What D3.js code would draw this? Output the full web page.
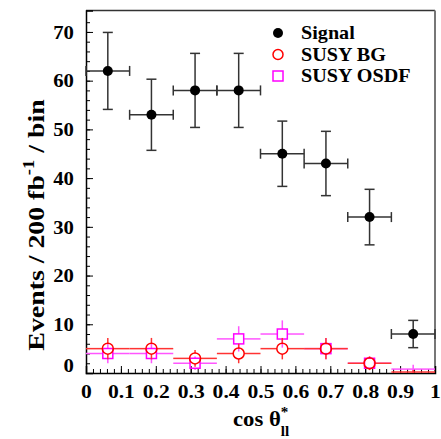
<!DOCTYPE html>
<html>
<head>
<meta charset="utf-8">
<script src="https://cdn.jsdelivr.net/npm/d3@7"></script>
<style>
  body { margin: 0; background: #fff; }
  text { font-family: "Liberation Serif", "DejaVu Serif", serif; font-weight: bold; fill: #000; }
</style>
</head>
<body>
<div class="chart__container"></div>
<script>
// bins in cos theta*_ll
const binLow = [0, 0.125, 0.25, 0.375, 0.5, 0.625, 0.75, 0.875];
const binHigh = [0.125, 0.25, 0.375, 0.5, 0.625, 0.75, 0.875, 1];

const signal = [62, 53, 58, 58, 45, 43, 32, 8];
const signalErr = [7.9, 7.3, 7.6, 7.6, 6.7, 6.6, 5.7, 2.8];

const susyBG = [5, 5, 3, 4, 5, 5, 2, 0.2];
const susyBGErr = [2.2, 2.2, 1.7, 2, 2.2, 2.2, 1.4, 0.4];

const susyOSDF = [4, 4, 2, 7, 8, 5, 2, 0.8];
const susyOSDFErr = [2, 2, 1.4, 2.6, 2.8, 2.2, 1.4, 0.9];

const xTickLabels = ["0", "0.1", "0.2", "0.3", "0.4", "0.5", "0.6", "0.7", "0.8", "0.9", "1"];
const yTickLabels = ["0", "10", "20", "30", "40", "50", "60", "70"];
const legendNames = ["Signal", "SUSY BG", "SUSY OSDF"];

const W = 441, H = 439;
const margin = { top: 10.5, right: 6, bottom: 66, left: 86 };
const width = W - margin.left - margin.right;
const height = H - margin.top - margin.bottom;

const svg = d3.select(".chart__container")
  .append("svg")
  .attr("width", W)
  .attr("height", H);

const g = svg.append("g").attr("transform", `translate(${margin.left},${margin.top})`);

const x = d3.scaleLinear().domain([0, 1]).range([0, width]);
const y = d3.scaleLinear().domain([0, 74.4]).range([height, 0]);

// frame: top and right lines
g.append("line").attr("x1", 0).attr("x2", width).attr("y1", 0).attr("y2", 0)
  .attr("stroke", "#333").attr("stroke-width", 1.5);
g.append("line").attr("x1", width).attr("x2", width).attr("y1", 0).attr("y2", height)
  .attr("stroke", "#777").attr("stroke-width", 2);

// x axis (minor + major ticks)
const xAxisMinor = d3.axisBottom(x).tickValues(d3.range(0, 1.0001, 0.02)).tickSize(-4).tickFormat("");
const xAxisMajor = d3.axisBottom(x).tickValues(xTickLabels.map(Number)).tickSize(-7).tickPadding(14)
  .tickFormat((d, i) => xTickLabels[i]);

g.append("g").attr("transform", `translate(0,${height})`).call(xAxisMinor)
  .call(s => s.select(".domain").remove())
  .selectAll("line").attr("stroke", "#000");
const xa = g.append("g").attr("transform", `translate(0,${height})`).call(xAxisMajor);
xa.select(".domain").attr("stroke", "#000").attr("stroke-width", 1.5);
xa.selectAll("line").attr("stroke", "#000");
xa.selectAll("text").attr("font-size", 18).attr("font-family", null).attr("dy", "0.6em")
  .attr("transform", "scale(1.2,1)");

// y axis
const yAxisMinor = d3.axisLeft(y).tickValues(d3.range(0, 74, 2)).tickSize(-4).tickFormat("");
const yAxisMajor = d3.axisLeft(y).tickValues(yTickLabels.map(Number)).tickSize(-7).tickPadding(10.5)
  .tickFormat((d, i) => yTickLabels[i]);

g.append("g").call(yAxisMinor)
  .call(s => s.select(".domain").remove())
  .selectAll("line").attr("stroke", "#000");
const ya = g.append("g").call(yAxisMajor);
ya.select(".domain").attr("stroke", "#000").attr("stroke-width", 1.5);
ya.selectAll("line").attr("stroke", "#000");
ya.selectAll("text").attr("font-size", 18).attr("font-family", null)
  .attr("dy", (d) => d === 0 ? "-0.1em" : "0.35em")
  .attr("transform", "scale(1.15,1)");

// hollow-marker error bars (gap around marker)
function drawHollow(values, errs, lineColor, gap) {
  const grp = g.append("g");
  values.forEach((v, i) => {
    const cx = x((binLow[i] + binHigh[i]) / 2);
    const cy = y(v);
    const hasMarker = v >= 1;
    const gp = hasMarker ? gap : 0;
    const segs = [
      [x(binLow[i]), cy, cx - gp, cy],
      [cx + gp, cy, x(binHigh[i]), cy],
      [cx, y(v + errs[i]), cx, cy - gp],
      [cx, cy + gp, cx, y(Math.max(0, v - errs[i]))]
    ];
    segs.forEach(([x1, y1, x2, y2]) => {
      if ((x2 - x1) > 0 || (y2 - y1) > 0) {
        grp.append("line").attr("x1", x1).attr("y1", y1).attr("x2", x2).attr("y2", y2)
          .attr("stroke", lineColor).attr("stroke-width", 1.5);
      }
    });
  });
  return grp;
}

// SUSY OSDF (magenta squares)
const osdf = drawHollow(susyOSDF, susyOSDFErr, "#f5f", 5);
osdf.selectAll("rect.m").data(susyOSDF.filter(d => d >= 1)).enter().append("rect")
  .attr("x", (d, i) => x((binLow[i] + binHigh[i]) / 2) - 5)
  .attr("y", (d) => y(d) - 5)
  .attr("width", 10).attr("height", 10)
  .attr("fill", "none").attr("stroke", "#f0f").attr("stroke-width", 1.5);

// SUSY BG (red circles)
const bg = drawHollow(susyBG, susyBGErr, "#f33", 5.5);
bg.selectAll("circle.m").data(susyBG.filter(d => d >= 1)).enter().append("circle")
  .attr("cx", (d, i) => x((binLow[i] + binHigh[i]) / 2))
  .attr("cy", (d) => y(d))
  .attr("r", 5.5)
  .attr("fill", "none").attr("stroke", "#f00").attr("stroke-width", 1.5);

// Signal (black filled, with end caps)
const sig = g.append("g");
signal.forEach((v, i) => {
  const cx = x((binLow[i] + binHigh[i]) / 2);
  const cy = y(v);
  const x0 = x(binLow[i]), x1 = x(binHigh[i]);
  const yt = y(v + signalErr[i]), yb = y(v - signalErr[i]);
  const lines = [
    [x0, cy, x1, cy], [cx, yt, cx, yb],
    [x0, cy - 5, x0, cy + 5], [x1, cy - 5, x1, cy + 5],
    [cx - 5, yt, cx + 5, yt], [cx - 5, yb, cx + 5, yb]
  ];
  lines.forEach(([a, b, c, d]) => {
    sig.append("line").attr("x1", a).attr("y1", b).attr("x2", c).attr("y2", d)
      .attr("stroke", "#333").attr("stroke-width", 1.5);
  });
});
sig.selectAll("circle").data(signal).enter().append("circle")
  .attr("cx", (d, i) => x((binLow[i] + binHigh[i]) / 2))
  .attr("cy", (d) => y(d))
  .attr("r", 5)
  .attr("fill", "#000");

// legend
const legend = svg.append("g").attr("transform", "translate(278,33)");
legendNames.forEach((name, i) => {
  const row = legend.append("g").attr("transform", `translate(0,${i * 21.5})`);
  if (i === 0) row.append("circle").attr("r", 5).attr("fill", "#000");
  if (i === 1) row.append("circle").attr("r", 5).attr("fill", "none").attr("stroke", "#f00").attr("stroke-width", 1.5);
  if (i === 2) row.append("rect").attr("x", -5).attr("y", -5).attr("width", 10).attr("height", 10)
    .attr("fill", "none").attr("stroke", "#f0f").attr("stroke-width", 1.5);
  row.append("text").attr("transform", "translate(23,6) scale(1.12,1)").attr("font-size", 18).text(name);
});

// axis titles
const xt = svg.append("text").attr("transform", "translate(233,426) scale(1.08,1)").attr("font-size", 21);
xt.append("tspan").text("cos \u03b8");
xt.append("tspan").attr("font-size", 14).attr("dy", -9).text("*");
xt.append("tspan").attr("font-size", 14).attr("dx", -7).attr("dy", 19).text("ll");

const yt = svg.append("text")
  .attr("transform", "translate(44,225) rotate(-90) scale(1.16,1)")
  .attr("text-anchor", "middle")
  .attr("font-size", 24);
yt.append("tspan").text("Events / 200 fb");
yt.append("tspan").attr("font-size", 16).attr("dy", -10).text("-1");
yt.append("tspan").attr("dy", 10).text(" / bin");
</script>
</body>
</html>
